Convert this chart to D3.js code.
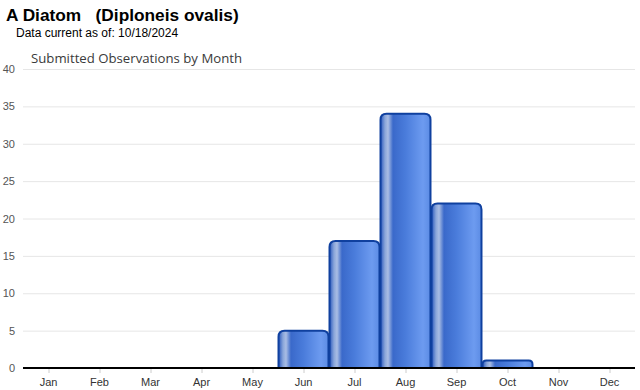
<!DOCTYPE html>
<html>
<head>
<meta charset="utf-8">
<script src="https://cdn.jsdelivr.net/npm/d3@7.9.0/dist/d3.min.js"></script>
<style>
  body { margin: 0; background: #fff; }
  svg { display: block; font-family: Arial, "Liberation Sans", sans-serif; }
</style>
</head>
<body>
<svg id="chart" width="640" height="390"></svg>
<script>
// chart data
const months = ['Jan', 'Feb', 'Mar', 'Apr', 'May', 'Jun', 'Jul', 'Aug', 'Sep', 'Oct', 'Nov', 'Dec'];
const counts = [0, 0, 0, 0, 0, 5, 17, 34, 22, 1, 0, 0];
const yTicks = [0, 5, 10, 15, 20, 25, 30, 35, 40];

const svg = d3.select('#chart');

// plot area
const plotLeft = 23, plotRight = 635, plotTop = 69, plotBottom = 368;

let x = d3.scaleBand().domain(months).range([plotLeft, plotRight]).paddingInner(0.02).paddingOuter(0.01);
let y = d3.scaleLinear().domain([0, 40]).range([plotBottom, plotTop]);

let barData = months.map((m, i) => ({ month: m, value: counts[i] }));

// gradient for the bars (cylinder look)
let defs = svg.append('defs');
let grad = defs.append('linearGradient').attr('id', 'barGrad')
  .attr('x1', '0%').attr('x2', '100%').attr('y1', '0%').attr('y2', '0%');
[
  [0, '#2857bd'],
  [0.09, '#8aa6da'],
  [0.15, '#a9bde4'],
  [0.25, '#3a69ca'],
  [0.5, '#4a7cdb'],
  [0.85, '#6d9bf0'],
  [1, '#5b8be4']
].forEach(([o, c]) => grad.append('stop').attr('offset', o).attr('stop-color', c));

// titles
svg.append('text').attr('x', 6).attr('y', 21)
  .attr('font-size', 17.3).attr('font-weight', 'bold').attr('fill', '#000')
  .attr('xml:space', 'preserve')
  .text('A Diatom   (Diploneis ovalis)');
svg.append('text').attr('x', 16).attr('y', 37)
  .attr('font-size', 12).attr('fill', '#000')
  .text('Data current as of: 10/18/2024');
svg.append('text').attr('x', 31).attr('y', 63)
  .attr('font-size', 13.2).attr('fill', '#3a3a3a')
  .attr('font-family', '"Open Sans", "DejaVu Sans", sans-serif')
  .text('Submitted Observations by Month');

// gridlines
svg.append('g').selectAll('line')
  .data(yTicks.filter(d => d > 0))
  .enter().append('line')
  .attr('x1', plotLeft).attr('x2', plotRight)
  .attr('y1', d => y(d) + 0.5).attr('y2', d => y(d) + 0.5)
  .attr('stroke', '#e6e6e6').attr('stroke-width', 1);

// y labels
svg.append('g').selectAll('text')
  .data(yTicks)
  .enter().append('text')
  .attr('x', 15).attr('y', d => y(d) + 4)
  .attr('text-anchor', 'end')
  .attr('font-size', 11).attr('fill', '#555')
  .text(d => d);

// bars with rounded tops
function barPath(d) {
  let x0 = x(d.month), w = x.bandwidth();
  let y0 = y(d.value), y1 = y(0);
  let r = Math.min(6, (y1 - y0) / 2);
  return `M${x0},${y1} L${x0},${y0 + r} Q${x0},${y0} ${x0 + r},${y0} ` +
    `L${x0 + w - r},${y0} Q${x0 + w},${y0} ${x0 + w},${y0 + r} L${x0 + w},${y1} Z`;
}
svg.append('g').selectAll('path')
  .data(barData.filter(d => d.value > 0))
  .enter()
  .append('path')
  .attr('d', barPath)
  .attr('fill', 'url(#barGrad)')
  .attr('stroke', '#0f409f')
  .attr('stroke-width', 2);

// x axis
let xAxis = svg.append('g').attr('transform', `translate(0,${plotBottom})`);
xAxis.append('line')
  .attr('x1', plotLeft).attr('x2', plotRight).attr('y1', 0).attr('y2', 0)
  .attr('stroke', '#000').attr('stroke-width', 2);
xAxis.selectAll('.tick')
  .data(months)
  .enter().append('line')
  .attr('x1', d => x(d) + x.bandwidth() / 2 + 0.5)
  .attr('x2', d => x(d) + x.bandwidth() / 2 + 0.5)
  .attr('y1', 1).attr('y2', 5)
  .attr('stroke', '#ccc');
xAxis.selectAll('text')
  .data(months)
  .enter().append('text')
  .attr('x', d => x(d) + x.bandwidth() / 2)
  .attr('y', 18)
  .attr('text-anchor', 'middle')
  .attr('font-size', 11).attr('fill', '#333')
  .text(d => d);
</script>
</body>
</html>
